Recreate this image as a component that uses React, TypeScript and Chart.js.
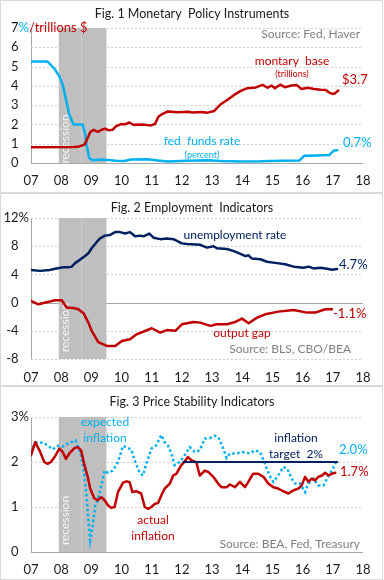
import React, { useEffect, useRef } from 'react';
import { Chart, registerables } from 'chart.js';

Chart.register(...registerables);

const FONT = 'Lato, "Noto Sans", sans-serif';
const RED = '#c00000';
const BLUE = '#00b0f0';
const NAVY = '#002060';
const GRAY = '#808080';
const INK = '#1a1a1a';

// ---------- data ----------
const yearTickLabels = ['07', '08', '09', '10', '11', '12', '13', '14', '15', '16', '17', '18'];
const recessionStart = 2007.92;
const recessionEnd = 2009.5;
const recessionSplit = 2008.65;

// Fig 1
const fedFundsYears = [2007.0, 2007.55, 2007.77, 2007.94, 2008.05, 2008.16, 2008.27, 2008.41, 2008.71, 2008.79, 2008.85, 2008.93, 2009.04, 2009.32, 2009.54, 2009.81, 2010.09, 2010.31, 2010.86, 2011.19, 2011.53, 2012.19, 2012.85, 2013.29, 2013.95, 2014.62, 2014.95, 2015.28, 2015.89, 2016.05, 2016.49, 2016.88, 2016.96, 2017.04, 2017.15];
const fedFundsRate = [5.26, 5.26, 4.9, 4.5, 4.05, 3.3, 2.5, 2.0, 2.0, 1.55, 0.86, 0.26, 0.14, 0.18, 0.16, 0.12, 0.1, 0.18, 0.19, 0.13, 0.08, 0.12, 0.14, 0.1, 0.08, 0.09, 0.11, 0.12, 0.13, 0.37, 0.39, 0.41, 0.54, 0.65, 0.66];
const monetaryBaseYears = [2007.0, 2008.43, 2008.6, 2008.77, 2008.85, 2008.96, 2009.08, 2009.21, 2009.37, 2009.45, 2009.56, 2009.7, 2009.81, 2009.98, 2010.11, 2010.26, 2010.4, 2010.75, 2010.97, 2011.11, 2011.22, 2011.36, 2011.53, 2011.86, 2012.19, 2012.35, 2012.63, 2012.85, 2013.07, 2013.29, 2013.51, 2013.73, 2013.95, 2014.17, 2014.45, 2014.67, 2014.84, 2014.97, 2015.08, 2015.26, 2015.41, 2015.63, 2015.8, 2015.96, 2016.16, 2016.38, 2016.6, 2016.77, 2016.88, 2016.99, 2017.08, 2017.18];
const monetaryBase = [0.82, 0.83, 0.86, 0.95, 1.2, 1.6, 1.72, 1.62, 1.74, 1.78, 1.7, 1.72, 1.9, 2.02, 2.0, 2.1, 1.98, 1.99, 1.95, 2.02, 2.4, 2.55, 2.67, 2.63, 2.66, 2.62, 2.64, 2.61, 2.7, 3.05, 3.28, 3.53, 3.74, 3.88, 3.92, 4.05, 3.9, 4.02, 3.88, 4.06, 3.93, 4.02, 4.05, 3.84, 3.9, 3.84, 3.8, 3.78, 3.65, 3.58, 3.62, 3.76];

// Fig 2
const unemploymentYears = [2007.0, 2007.3, 2007.63, 2007.8, 2008.07, 2008.24, 2008.35, 2008.46, 2008.63, 2008.79, 2008.9, 2009.01, 2009.18, 2009.29, 2009.45, 2009.62, 2009.79, 2009.95, 2010.12, 2010.28, 2010.45, 2010.62, 2010.73, 2010.92, 2011.06, 2011.28, 2011.5, 2011.72, 2012.0, 2012.16, 2012.61, 2012.83, 2013.05, 2013.16, 2013.49, 2013.72, 2013.94, 2014.1, 2014.21, 2014.32, 2014.6, 2014.82, 2015.15, 2015.42, 2015.7, 2016.03, 2016.2, 2016.36, 2016.59, 2016.81, 2016.97, 2017.14];
const unemploymentRate = [4.64, 4.5, 4.64, 4.8, 5.0, 5.0, 5.1, 5.6, 6.1, 6.6, 7.0, 7.7, 8.6, 9.1, 9.5, 9.6, 10.0, 10.0, 9.8, 10.0, 9.4, 9.5, 9.4, 9.8, 9.2, 9.0, 9.1, 9.0, 8.4, 8.3, 8.2, 7.8, 8.0, 7.7, 7.6, 7.3, 6.9, 6.6, 6.7, 6.25, 6.15, 5.8, 5.6, 5.45, 5.1, 4.95, 5.1, 4.85, 4.95, 4.8, 4.65, 4.75];
const outputGapYears = [2007.0, 2007.24, 2007.52, 2007.8, 2008.02, 2008.18, 2008.4, 2008.57, 2008.74, 2008.9, 2009.01, 2009.23, 2009.51, 2009.79, 2010.01, 2010.28, 2010.5, 2011.0, 2011.28, 2011.5, 2011.78, 2012.0, 2012.38, 2012.61, 2012.94, 2013.16, 2013.49, 2013.77, 2013.99, 2014.21, 2014.49, 2014.76, 2015.2, 2015.7, 2016.14, 2016.42, 2016.75, 2016.97];
const outputGap = [0.24, -0.24, 0.05, 0.33, 0.33, -0.7, -0.76, -0.95, -1.5, -2.84, -4.0, -5.6, -6.15, -6.15, -5.44, -5.2, -4.5, -3.64, -4.26, -3.9, -4.0, -3.08, -2.75, -2.84, -3.3, -3.08, -3.08, -2.75, -2.27, -2.93, -2.13, -1.66, -1.28, -1.04, -1.42, -1.42, -0.95, -0.95];

// Fig 3
const expectedInflationYears = [2007.0, 2007.11, 2007.22, 2007.39, 2007.55, 2007.72, 2007.89, 2008.05, 2008.16, 2008.33, 2008.47, 2008.61, 2008.72, 2008.81, 2008.88, 2008.96, 2009.05, 2009.13, 2009.21, 2009.33, 2009.44, 2009.55, 2009.71, 2009.88, 2010.05, 2010.21, 2010.32, 2010.43, 2010.6, 2010.71, 2010.82, 2010.99, 2011.15, 2011.32, 2011.43, 2011.54, 2011.65, 2011.76, 2011.93, 2012.09, 2012.26, 2012.43, 2012.59, 2012.76, 2012.92, 2013.09, 2013.2, 2013.37, 2013.48, 2013.59, 2013.81, 2014.03, 2014.25, 2014.42, 2014.59, 2014.75, 2014.9, 2015.03, 2015.19, 2015.36, 2015.49, 2015.64, 2015.75, 2015.91, 2016.08, 2016.19, 2016.36, 2016.52, 2016.69, 2016.86, 2016.97, 2017.13];
const expectedInflation = [2.22, 2.4, 2.44, 2.43, 2.37, 2.28, 2.36, 2.34, 2.39, 2.44, 2.48, 2.26, 1.93, 1.48, 0.89, 0.26, 0.59, 1.04, 1.15, 1.48, 1.81, 1.76, 1.81, 2.0, 2.36, 2.31, 2.28, 2.04, 1.76, 1.7, 1.96, 2.3, 2.37, 2.6, 2.44, 2.36, 2.19, 1.93, 2.0, 2.15, 2.33, 2.22, 2.26, 2.52, 2.53, 2.58, 2.56, 2.3, 2.09, 2.19, 2.19, 2.22, 2.19, 2.26, 2.22, 1.96, 1.7, 1.56, 1.7, 1.89, 1.85, 1.63, 1.52, 1.52, 1.33, 1.52, 1.63, 1.48, 1.48, 1.7, 1.81, 2.04];
const actualInflationYears = [2007.0, 2007.14, 2007.28, 2007.44, 2007.55, 2007.66, 2007.78, 2007.94, 2008.05, 2008.16, 2008.27, 2008.44, 2008.55, 2008.66, 2008.77, 2008.88, 2008.96, 2009.1, 2009.21, 2009.33, 2009.44, 2009.55, 2009.66, 2009.77, 2009.88, 2010.05, 2010.16, 2010.27, 2010.36, 2010.49, 2010.65, 2010.77, 2010.88, 2010.99, 2011.1, 2011.21, 2011.32, 2011.43, 2011.6, 2011.71, 2011.82, 2011.98, 2012.09, 2012.2, 2012.31, 2012.48, 2012.59, 2012.76, 2012.87, 2013.04, 2013.2, 2013.31, 2013.48, 2013.59, 2013.76, 2013.92, 2014.09, 2014.2, 2014.36, 2014.53, 2014.7, 2014.86, 2015.03, 2015.19, 2015.36, 2015.53, 2015.69, 2015.86, 2015.97, 2016.08, 2016.19, 2016.3, 2016.41, 2016.52, 2016.64, 2016.75, 2016.86, 2016.97, 2017.08];
const actualInflation = [2.15, 2.44, 2.26, 2.0, 1.96, 2.0, 2.11, 2.3, 2.22, 2.07, 2.19, 2.31, 2.33, 2.26, 1.93, 1.67, 1.41, 1.19, 1.15, 1.22, 1.15, 1.04, 0.98, 1.0, 1.33, 1.54, 1.57, 1.55, 1.33, 1.35, 1.3, 1.0, 0.96, 1.0, 1.07, 1.09, 1.26, 1.41, 1.52, 1.7, 1.74, 1.93, 2.01, 2.11, 2.04, 1.99, 1.7, 1.81, 1.78, 1.67, 1.52, 1.44, 1.44, 1.5, 1.44, 1.56, 1.44, 1.56, 1.74, 1.74, 1.67, 1.52, 1.44, 1.41, 1.35, 1.3, 1.37, 1.41, 1.48, 1.67, 1.56, 1.63, 1.59, 1.67, 1.7, 1.76, 1.7, 1.74, 1.76];
const targetYears = [2012.05, 2017.15];
const targetInflation = [2, 2];

// ---------- helpers ----------
const pts = (xs: number[], ys: number[]) => xs.map((x, i) => ({ x, y: ys[i] }));

type Ann = { t: string; x: number; y: number; c: string; s?: number; a?: CanvasTextAlign };
type Part = { t: string; c: string };

interface PanelSpec {
  title: string;
  titleY: number;
  datasets: any[];
  yMin: number;
  yMax: number;
  yStep: number;
  padTop: number;
  xHeight: number;
  xPad: number;
  topParts: Part[];
  recessionY: number;
  anns: Ann[];
}

const TICK_RIGHT_PAD = 12.5;

function buildConfig(spec: PanelSpec): any {
  const decor = {
    id: 'decor',
    beforeDatasetsDraw(chart: any) {
      const { ctx, chartArea: ca, scales } = chart;
      const x = scales.x;
      const y = scales.y;
      ctx.save();
      // grid lines
      y.ticks.forEach((t: any) => {
        const py = Math.round(y.getPixelForValue(t.value)) + 0.5;
        ctx.beginPath();
        if (t.value === 0) {
          ctx.setLineDash([]);
          ctx.strokeStyle = '#a6a6a6';
        } else {
          ctx.setLineDash([2, 2]);
          ctx.strokeStyle = '#d0d0d0';
        }
        ctx.lineWidth = 1;
        ctx.moveTo(ca.left, py);
        ctx.lineTo(ca.right, py);
        ctx.stroke();
      });
      ctx.setLineDash([]);
      // recession shading
      const x0 = x.getPixelForValue(recessionStart);
      const x1 = x.getPixelForValue(recessionEnd);
      ctx.fillStyle = '#bfbfbf';
      ctx.fillRect(x0, ca.top, x1 - x0, ca.bottom - ca.top);
      const xs = Math.round(x.getPixelForValue(recessionSplit)) + 0.5;
      ctx.strokeStyle = '#cdcdcd';
      ctx.beginPath();
      ctx.moveTo(xs, ca.top);
      ctx.lineTo(xs, ca.bottom);
      ctx.stroke();
      // recession label
      ctx.translate(65, spec.recessionY);
      ctx.rotate(-Math.PI / 2);
      ctx.fillStyle = '#f4f4f4';
      ctx.font = `12px ${FONT}`;
      ctx.textAlign = 'center';
      ctx.textBaseline = 'middle';
      ctx.fillText('recession', 0, 0);
      ctx.restore();
    },
    afterDatasetsDraw(chart: any) {
      const { ctx, scales } = chart;
      const y = scales.y;
      ctx.save();
      ctx.textBaseline = 'middle';
      // title
      ctx.font = `12.5px ${FONT}`;
      ctx.fillStyle = INK;
      ctx.textAlign = 'center';
      ctx.fillText(spec.title, 192, spec.titleY);
      // top tick label with suffix
      const py = y.getPixelForValue(spec.yMax);
      const xr = y.right - TICK_RIGHT_PAD;
      ctx.font = `13px ${FONT}`;
      ctx.textAlign = 'right';
      ctx.fillStyle = INK;
      ctx.fillText(String(spec.yMax), xr, py);
      ctx.textAlign = 'left';
      let cx = xr;
      spec.topParts.forEach((p) => {
        ctx.fillStyle = p.c;
        ctx.fillText(p.t, cx, py);
        cx += ctx.measureText(p.t).width;
      });
      // annotations
      spec.anns.forEach((a) => {
        ctx.font = `${a.s ?? 12}px ${FONT}`;
        ctx.fillStyle = a.c;
        ctx.textAlign = a.a ?? 'center';
        ctx.fillText(a.t, a.x, a.y);
      });
      ctx.restore();
    },
  };

  return {
    type: 'line',
    data: { datasets: spec.datasets },
    options: {
      animation: false,
      responsive: false,
      events: [],
      parsing: true,
      layout: { padding: { top: spec.padTop, left: 0, right: 21, bottom: 0 } },
      plugins: { legend: { display: false }, tooltip: { enabled: false }, title: { display: false } },
      elements: { point: { radius: 0 }, line: { tension: 0, borderJoinStyle: 'round', borderCapStyle: 'round' } },
      scales: {
        x: {
          type: 'linear',
          min: 2007,
          max: 2018,
          afterFit: (s: any) => { s.height = spec.xHeight; },
          grid: { display: false, drawTicks: false },
          border: { display: false },
          ticks: {
            stepSize: 1,
            maxTicksLimit: 20,
            autoSkip: false,
            maxRotation: 0,
            padding: spec.xPad,
            color: INK,
            font: { family: FONT, size: 13 },
            callback: (v: number) => yearTickLabels[Math.round(v) - 2007] ?? '',
          },
        },
        y: {
          type: 'linear',
          min: spec.yMin,
          max: spec.yMax,
          afterFit: (s: any) => { s.width = 31; },
          grid: { display: false, drawTicks: false },
          border: { display: true, color: '#a6a6a6', width: 1 },
          ticks: {
            stepSize: spec.yStep,
            padding: TICK_RIGHT_PAD,
            color: INK,
            font: { family: FONT, size: 13 },
            callback: (v: number) => (v === spec.yMax ? '' : String(v)),
          },
        },
      },
    },
    plugins: [decor],
  };
}

const line = (data: any, color: string, width = 2.5, dash: number[] = [], cap = 'round') => ({
  data,
  borderColor: color,
  backgroundColor: color,
  borderWidth: width,
  borderDash: dash,
  borderCapStyle: cap,
  borderJoinStyle: dash.length ? 'miter' : 'round',
  pointRadius: 0,
  fill: false,
});

const fig1 = (): PanelSpec => ({
  title: 'Fig. 1 Monetary  Policy Instruments',
  titleY: 14,
  datasets: [
    line(pts(monetaryBaseYears, monetaryBase), RED),
    line(pts(fedFundsYears, fedFundsRate), BLUE),
  ],
  yMin: 0,
  yMax: 7,
  yStep: 1,
  padTop: 28,
  xHeight: 30,
  xPad: 10.5,
  topParts: [{ t: '%', c: BLUE }, { t: '/trillions $', c: RED }],
  recessionY: 139,
  anns: [
    { t: 'Source: Fed, Haver', x: 360, y: 34, c: GRAY, a: 'right' },
    { t: 'montary  base', x: 292, y: 61, c: RED },
    { t: '(trillions)', x: 292, y: 74, c: RED, s: 9 },
    { t: '$3.7', x: 342, y: 80, c: RED, s: 13, a: 'left' },
    { t: 'fed  funds rate', x: 202, y: 141, c: BLUE },
    { t: '(percent)', x: 202, y: 155, c: BLUE, s: 9 },
    { t: '0.7%', x: 343, y: 143, c: BLUE, s: 13, a: 'left' },
  ],
});

const fig2 = (): PanelSpec => ({
  title: 'Fig. 2 Employment  Indicators',
  titleY: 15.3,
  datasets: [
    line(pts(unemploymentYears, unemploymentRate), NAVY),
    line(pts(outputGapYears, outputGap), RED),
  ],
  yMin: -8,
  yMax: 12,
  yStep: 4,
  padTop: 25,
  xHeight: 27,
  xPad: 11,
  topParts: [{ t: '%', c: INK }],
  recessionY: 134.5,
  anns: [
    { t: 'unemployment rate', x: 235, y: 42, c: NAVY },
    { t: '4.7%', x: 339, y: 72, c: NAVY, s: 13, a: 'left' },
    { t: '-1.1%', x: 333, y: 121, c: RED, s: 13, a: 'left' },
    { t: 'output gap', x: 242, y: 140, c: RED },
    { t: 'Source: BLS, CBO/BEA', x: 351, y: 156, c: GRAY, a: 'right' },
  ],
});

const fig3 = (): PanelSpec => ({
  title: 'Fig. 3 Price Stability Indicators',
  titleY: 15.7,
  datasets: [
    line(pts(targetYears, targetInflation), NAVY, 2),
    line(pts(actualInflationYears, actualInflation), RED),
    line(pts(expectedInflationYears, expectedInflation), BLUE, 2.5, [2.5, 2.5], 'butt'),
  ],
  yMin: 0,
  yMax: 3,
  yStep: 1,
  padTop: 31,
  xHeight: 28,
  xPad: 10,
  topParts: [{ t: '%', c: INK }],
  recessionY: 134.5,
  anns: [
    { t: 'expected', x: 105, y: 36.3, c: BLUE },
    { t: 'inflation', x: 105, y: 52.3, c: BLUE },
    { t: 'inflation', x: 296, y: 52.3, c: NAVY },
    { t: 'target  2%', x: 296, y: 68.3, c: NAVY },
    { t: '2.0%', x: 339, y: 64, c: BLUE, s: 13, a: 'left' },
    { t: '1.7%', x: 340, y: 86.3, c: RED, s: 13, a: 'left' },
    { t: 'actual', x: 153, y: 134, c: RED },
    { t: 'inflation', x: 153, y: 150, c: RED },
    { t: 'Source: BEA, Fed, Treasury', x: 360, y: 158.3, c: GRAY, a: 'right' },
  ],
});

function Panel({ top, height, build }: { top: number; height: number; build: () => PanelSpec }) {
  const ref = useRef<HTMLCanvasElement>(null);
  useEffect(() => {
    const chart = new Chart(ref.current as HTMLCanvasElement, buildConfig(build()));
    return () => chart.destroy();
  }, []);
  return (
    <div
      style={{
        position: 'absolute',
        left: 0,
        top,
        width: 383,
        height,
        border: '1px solid #d9d9d9',
        boxSizing: 'border-box',
        background: '#fff',
      }}
    >
      <canvas
        ref={ref}
        width={384}
        height={height}
        style={{ position: 'absolute', left: -1, top: -1, width: 384, height }}
      />
    </div>
  );
}

export default function App() {
  return (
    <div style={{ position: 'absolute', left: 0, top: 0, width: 384, height: 580, background: '#fff' }}>
      <Panel top={0} height={193} build={fig1} />
      <Panel top={193} height={193} build={fig2} />
      <Panel top={386} height={194} build={fig3} />
    </div>
  );
}
